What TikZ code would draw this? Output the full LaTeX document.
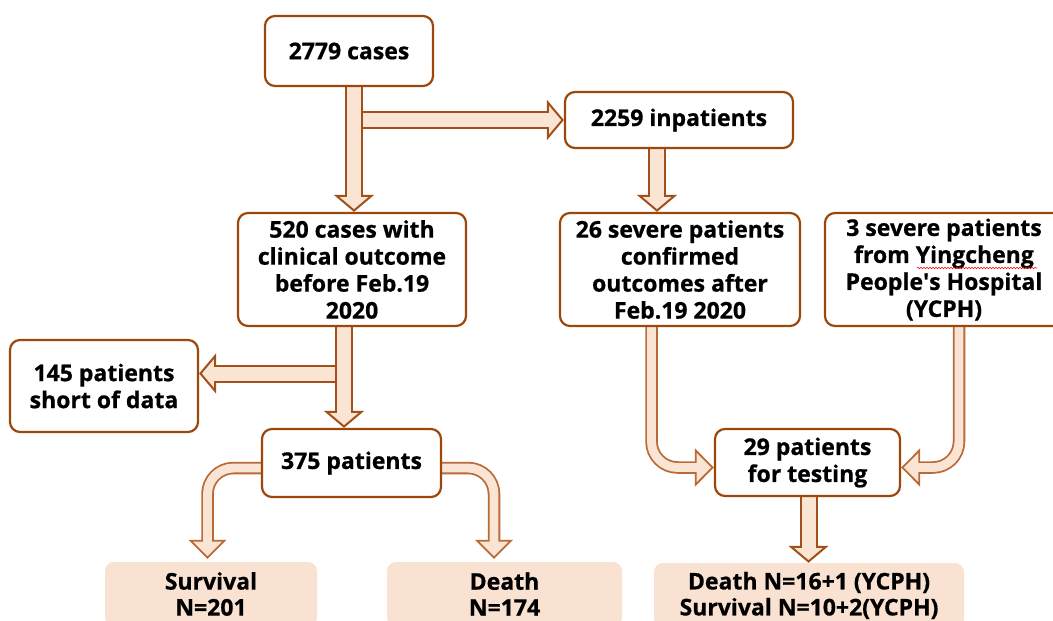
\documentclass[tikz,border=0pt]{standalone}
\usepackage{fontspec}
\setmainfont{Open Sans}[BoldFeatures={FakeBold=0.7}]
\usetikzlibrary{arrows.meta,backgrounds,decorations.pathmorphing}

\definecolor{boxbrown}{RGB}{156,72,12}
\definecolor{arrowbrown}{RGB}{160,80,24}
\definecolor{bendbrown}{RGB}{186,106,54}
\definecolor{peach}{RGB}{250,229,213}
\definecolor{resultfill}{RGB}{249,226,209}

\tikzset{
  box/.style={draw=boxbrown, line width=2.2pt, rounded corners=10pt, fill=white,
    align=center, inner sep=0pt, font=\bfseries\fontsize{23}{27}\selectfont},
  result/.style={fill=resultfill, rounded corners=9pt, align=center, inner sep=0pt,
    font=\bfseries\fontsize{23}{26}\selectfont},
  fat/.style={draw=arrowbrown, line width=18pt,
    -{Triangle[width=40pt,length=17pt,line width=2pt,fill=peach]},
    postaction={draw=peach, line width=14pt, -, shorten >=14pt}},
  bent/.style={draw=bendbrown, line width=12.5pt, rounded corners=26pt,
    -{Triangle[width=38pt,length=19pt,line width=1.8pt,fill=peach]},
    postaction={draw=peach, line width=8.9pt, -, shorten >=16pt}},
}

\begin{document}
\begin{tikzpicture}[x=1pt,y=-1pt]
  \useasboundingbox (0,0) rectangle (1053,621);

  \node[box, minimum width=168pt, minimum height=70pt] (cases) at (349,51) {2779 cases};
  \node[box, minimum width=228pt, minimum height=56pt] (inpat) at (679,120) {2259 inpatients};
  \node[box, minimum width=228pt, minimum height=113pt] (clin) at (352,269.5)
    {520 cases with\\clinical outcome\\before Feb.19\\2020};
  \node[box, minimum width=240pt, minimum height=113pt] (conf) at (680,269.5)
    {26 severe patients\\confirmed\\outcomes after\\Feb.19 2020};
  \node[box, minimum width=238pt, minimum height=113pt] (ycph) at (944,269.5)
    {3 severe patients\\from Yingcheng\\People\textquotesingle s Hospital\\(YCPH)};
  \node[box, minimum width=188pt, minimum height=92pt] (short) at (104,386) {145 patients\\short of data};
  \node[box, minimum width=179pt, minimum height=68pt] (pat) at (351.5,463) {375 patients};
  \node[box, minimum width=185pt, minimum height=67pt] (test) at (807.5,462.5) {29 patients\\for testing};

  \node[result, minimum width=212pt, minimum height=64pt] (surv) at (211,594) {Survival\\N=201};
  \node[result, minimum width=235pt, minimum height=64pt] (death) at (504.5,594) {Death\\N=174};
  \node[result, minimum width=310pt, minimum height=65pt] (final) at (809,595.5)
    {Death N=16+1 (YCPH)\\Survival N=10+2(YCPH)};

  % spell-check underline
  \draw[red, line width=0.6pt, decorate, decoration={snake, amplitude=0.7pt, segment length=3pt}]
    (917,268) -- (1037,268);

  \begin{scope}[on background layer]
    \coordinate (s1) at ([xshift=5pt]cases.south);
    \draw[fat] (s1 |- inpat.west) -- (inpat.west);
    \draw[fat] (s1) -- (s1 |- clin.north);

    \coordinate (s3) at ([xshift=-22pt]inpat.south);
    \draw[fat] (s3) -- (s3 |- conf.north);

    \coordinate (s2) at ([xshift=-8pt]clin.south);
    \coordinate (t2) at ([yshift=12.5pt]short.east);
    \draw[fat] (s2 |- t2) -- (t2);
    \draw[fat] (s2) -- (s2 |- pat.north);

    \draw[bent] ([yshift=-5pt]pat.west) -| ([xshift=-3.5pt,yshift=3pt]surv.north);
    \draw[bent] ([yshift=-5pt]pat.east) -| ([xshift=-10.5pt,yshift=3pt]death.north);

    \draw[bent] ([xshift=-28.5pt]conf.south) |- ([yshift=-5pt]test.west);
    \draw[bent] ([xshift=15pt]ycph.south) |- ([yshift=-5pt]test.east);

    \coordinate (s4) at ([xshift=1pt]test.south);
    \draw[fat] (s4) -- (s4 |- final.north);
  \end{scope}
\end{tikzpicture}
\end{document}
